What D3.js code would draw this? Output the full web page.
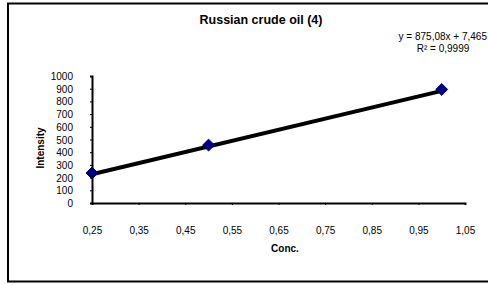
<!DOCTYPE html>
<html>
<head>
<meta charset="utf-8">
<script src="https://cdn.jsdelivr.net/npm/d3@7"></script>
<style>
  body { margin: 0; background: #fff; }
  text { font-family: "Liberation Sans", Arial, sans-serif; fill: #000; }
</style>
</head>
<body>
<div id="chart"></div>
<script>
var conc = [0.25, 0.5, 1.0];
var intensity = [236, 456, 894];
var xTicks = [0.25, 0.35, 0.45, 0.55, 0.65, 0.75, 0.85, 0.95, 1.05];
var yTicks = [0, 100, 200, 300, 400, 500, 600, 700, 800, 900, 1000];
var slope = 875.08, intercept = 7.465;
var eqLines = ["y = 875,08x + 7,465", "R\u00b2 = 0,9999"];

var W = 488, H = 285;
var svg = d3.select("#chart").append("svg").attr("width", W).attr("height", H);

svg.append("rect")
    .attr("x", 8).attr("y", 3.5).attr("width", 500).attr("height", 278)
    .attr("fill", "#fff").attr("stroke", "#000").attr("stroke-width", 2);

var x = d3.scaleLinear().domain([0.25, 1.05]).range([92, 465]);
var y = d3.scaleLinear().domain([0, 1000]).range([203, 76]);
var fmt = function (d) { return d3.format(".2f")(d).replace(".", ","); };

var gx = svg.append("g").attr("transform", "translate(0," + y(0) + ")")
    .call(d3.axisBottom(x).tickValues(xTicks).tickSize(2).tickPadding(22).tickFormat(fmt));
var gy = svg.append("g").attr("transform", "translate(" + x(0.25) + ",0)")
    .call(d3.axisLeft(y).tickValues(yTicks).tickSize(2).tickPadding(17).tickFormat(d3.format("d")));
[gx, gy].forEach(function (g) {
    g.select(".domain").attr("stroke-width", 2);
    g.selectAll("text").attr("font-size", 10).attr("font-family", "Liberation Sans, Arial, sans-serif");
});
gy.selectAll(".tick text").attr("dy", "0.35em");

// trend line
var tx = [conc[0], conc[conc.length - 1]];
svg.append("line")
    .attr("x1", x(tx[0])).attr("y1", y(slope * tx[0] + intercept))
    .attr("x2", x(tx[1])).attr("y2", y(slope * tx[1] + intercept))
    .attr("stroke", "#000").attr("stroke-width", 4);

// markers
svg.selectAll("path.pt").data(conc).enter().append("path")
    .attr("class", "pt")
    .attr("d", d3.symbol().type(d3.symbolDiamond2).size(90))
    .attr("transform", function (d, i) { return "translate(" + x(d) + "," + y(intensity[i]) + ")"; })
    .attr("fill", "#000080").attr("stroke", "#000080").attr("stroke-width", 1);

svg.append("text").attr("x", 261).attr("y", 24).attr("text-anchor", "middle")
    .attr("font-size", 12.5).attr("font-weight", "bold").text("Russian crude oil (4)");

svg.append("text").attr("x", 285).attr("y", 252).attr("text-anchor", "middle")
    .attr("font-size", 10).attr("font-weight", "bold").text("Conc.");

svg.append("text").attr("transform", "translate(44,148) rotate(-90)").attr("text-anchor", "middle")
    .attr("font-size", 10).attr("font-weight", "bold").text("Intensity");

svg.append("text").attr("x", 487).attr("y", 40).attr("text-anchor", "end")
    .attr("font-size", 10).text(eqLines[0]);
svg.append("text").attr("x", 443).attr("y", 52).attr("text-anchor", "middle")
    .attr("font-size", 10).text(eqLines[1]);
</script>
</body>
</html>
